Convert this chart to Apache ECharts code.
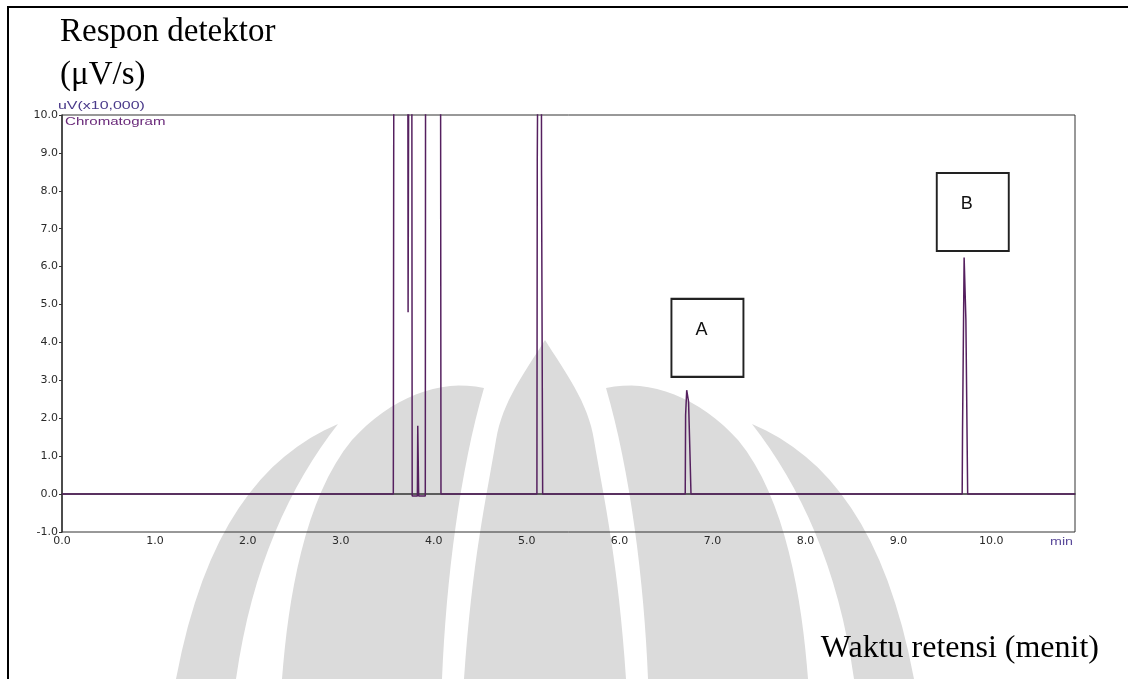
<!DOCTYPE html>
<html>
<head>
<meta charset="utf-8">
<script src="https://cdn.jsdelivr.net/npm/echarts@6/dist/echarts.min.js"></script>
<style>
html,body{margin:0;padding:0;background:#fff;}
#chart{width:1128px;height:679px;}
</style>
</head>
<body>
<div id="chart"></div>
<script>
// Retention time (min) and detector response (uV x10,000).
// Values above 10 are off-scale peaks that run past the top of the frame.
const retentionTime = [
  0, 3.565, 3.572, 3.720, 3.724, 3.731, 3.735, 3.763, 3.768, 3.824, 3.828, 3.834, 3.838,
  3.909, 3.913, 4.072, 4.078, 5.110, 5.114, 5.124, 5.128, 5.156, 5.160, 5.168, 5.172,
  6.706, 6.710, 6.718, 6.722, 6.738, 6.742, 6.752, 6.756, 6.764, 6.768,
  9.686, 9.690, 9.703, 9.707, 9.722, 9.726, 9.740, 9.745, 10.9
];
const response = [
  0, 0, 15, 15, 4.8, 4.8, 15, 15, -0.05, -0.05, 1.8, 1.8, -0.05,
  -0.05, 15, 15, 0, 0, 8.8, 8.8, 15, 15, 8.4, 8.4, 0,
  0, 2.08, 2.08, 2.74, 2.74, 2.43, 2.43, 1.16, 1.16, 0,
  0, 1.74, 1.74, 6.24, 6.24, 4.59, 4.59, 0, 0
];
const yTicks = [-1, 0, 1, 2, 3, 4, 5, 6, 7, 8, 9, 10];
const xTicks = [0, 1, 2, 3, 4, 5, 6, 7, 8, 9, 10];
const peakLabels = [
  {name: 'A', time: 6.945, value: 4.12},
  {name: 'B', time: 9.80, value: 7.44}
];

const seriesData = retentionTime.map((t, i) => [t, response[i]]);

const chart = echarts.init(document.getElementById('chart'), null, {renderer: 'canvas'});
const tickFont = {fontFamily: 'DejaVu Sans, Verdana, sans-serif', fontSize: 11, color: '#2a2a2a'};
const serif = '33px "Liberation Serif", "Times New Roman", serif';

// faint decorative background watermark: outlines given as cubic segments, sampled to polygons
function outline(start, segs) {
  const pts = [start];
  let p0 = start;
  segs.forEach(s => {
    if (s.length === 2) { pts.push(s); p0 = s; return; }
    const [c1x, c1y, c2x, c2y, ex, ey] = s;
    for (let k = 1; k <= 16; k++) {
      const t = k / 16, u = 1 - t;
      pts.push([
        u*u*u*p0[0] + 3*u*u*t*c1x + 3*u*t*t*c2x + t*t*t*ex,
        u*u*u*p0[1] + 3*u*u*t*c1y + 3*u*t*t*c2y + t*t*t*ey
      ]);
    }
    p0 = [ex, ey];
  });
  return pts;
}
const wmShapes = [
  outline([545,340], [[525,372,502,402,496,440],[486,500,472,560,464,679],[626,679],[618,560,604,500,594,440],[588,402,565,372,545,340]]),
  outline([484,388], [[440,378,390,398,352,440],[304,498,288,600,282,679],[442,679],[446,580,460,470,484,388]]),
  outline([606,388], [[650,378,700,398,738,440],[786,498,802,600,808,679],[648,679],[644,580,630,470,606,388]]),
  outline([338,424], [[262,456,204,530,176,679],[236,679],[252,566,290,486,338,424]]),
  outline([752,424], [[828,456,886,530,914,679],[854,679],[838,566,800,486,752,424]])
];
const watermark = wmShapes.map(pts => ({type: 'polygon', z: -10, silent: true, shape: {points: pts}, style: {fill: '#dbdbdb'}}));

chart.setOption({
  animation: false,
  backgroundColor: '#ffffff',
  grid: {left: 62, top: 115, width: 1013, height: 417, show: true, borderColor: '#333', borderWidth: 1, containLabel: false},
  xAxis: {
    type: 'value', min: 0, max: 10.9, interval: 1,
    axisLine: {show: true, lineStyle: {color: '#333', width: 1.5}},
    axisTick: {show: false},
    splitLine: {show: false},
    axisLabel: Object.assign({}, tickFont, {
      margin: 4,
      formatter: v => xTicks.includes(Math.round(v * 100) / 100) ? v.toFixed(1) : ''
    })
  },
  yAxis: {
    type: 'value', min: -1, max: 10, interval: 1,
    axisLine: {show: true, lineStyle: {color: '#333', width: 1.5}},
    axisTick: {show: true, length: 3, lineStyle: {color: '#333'}},
    splitLine: {show: false},
    axisLabel: Object.assign({}, tickFont, {
      margin: 4,
      formatter: v => yTicks.includes(Math.round(v)) ? v.toFixed(1) : ''
    })
  },
  series: [{
    type: 'line',
    data: seriesData,
    showSymbol: false,
    clip: true,
    z: 5,
    lineStyle: {color: '#55205f', width: 1.5},
    markPoint: {
      symbol: 'rect',
      symbolSize: [72, 78],
      itemStyle: {color: '#ffffff', borderColor: '#222', borderWidth: 2},
      label: {show: true, formatter: p => p.name, position: 'inside', offset: [-6, -8],
        fontFamily: 'Liberation Sans, Calibri, sans-serif', fontSize: 18, color: '#111'},
      data: peakLabels.map(p => ({name: p.name, coord: [p.time, p.value]}))
    }
  }],
  graphic: watermark.concat([
    {type: 'line', shape: {x1: 8, y1: 7, x2: 8, y2: 679}, style: {stroke: '#000', lineWidth: 2}},
    {type: 'line', shape: {x1: 7, y1: 7, x2: 1128, y2: 7}, style: {stroke: '#000', lineWidth: 2}},
    {type: 'text', x: 60, y: 49, style: {text: 'Respon detektor', x: 0, y: 0, verticalAlign: 'bottom', font: serif, fill: '#000'}},
    {type: 'text', x: 60, y: 92, style: {text: '(μV/s)', x: 0, y: 0, verticalAlign: 'bottom', font: serif, fill: '#000'}},
    {type: 'text', x: 1099, y: 665, style: {text: 'Waktu retensi (menit)', x: 0, y: 0, align: 'right', verticalAlign: 'bottom', font: '32px "Liberation Serif", "Times New Roman", serif', fill: '#000'}},
    {type: 'text', x: 58, y: 106, scaleX: 1.45, style: {text: 'uV(x10,000)', x: 0, y: 0, verticalAlign: 'middle', font: '11px "Liberation Sans", Arial, sans-serif', fill: '#4a3a8a'}},
    {type: 'text', x: 65, y: 122, scaleX: 1.37, style: {text: 'Chromatogram', x: 0, y: 0, verticalAlign: 'middle', font: '11px "Liberation Sans", Arial, sans-serif', fill: '#6a2a7a'}},
    {type: 'text', x: 1050, y: 542, scaleX: 1.3, style: {text: 'min', x: 0, y: 0, verticalAlign: 'middle', font: '11px "Liberation Sans", Arial, sans-serif', fill: '#5a4a9a'}}
  ])
});
</script>
</body>
</html>
